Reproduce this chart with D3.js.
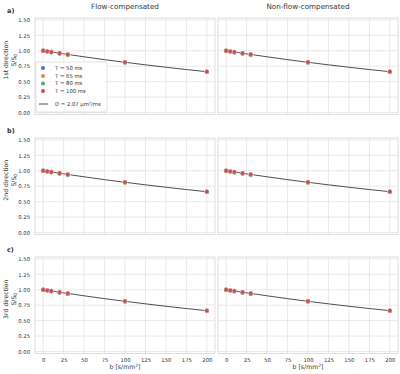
<!DOCTYPE html>
<html>
<head>
<meta charset="utf-8">
<script src="https://cdn.jsdelivr.net/npm/d3@7"></script>
<style>
  body { margin: 0; background: #fff; }
  text { font-family: "DejaVu Sans", sans-serif; fill: #333; }
</style>
</head>
<body>
<div id="chart"></div>
<script>
// data
var bValues = [0, 5, 10, 20, 30, 100, 200];
var seriesNames = ["T = 50 ms", "T = 65 ms", "T = 80 ms", "T = 100 ms"];
var seriesColors = ["#4c72b0", "#dd8452", "#55a868", "#c44e52"];
var sigT50  = [1.000, 0.990, 0.979, 0.959, 0.940, 0.813, 0.661];
var sigT65  = [1.000, 0.989, 0.978, 0.958, 0.939, 0.812, 0.660];
var sigT80  = [1.000, 0.986, 0.970, 0.952, 0.930, 0.810, 0.659];
var sigT100 = [1.000, 0.990, 0.980, 0.960, 0.941, 0.814, 0.662];
var fitB    = [0, 25, 50, 75, 100, 125, 150, 175, 200];
var fitSig  = [1.000, 0.950, 0.902, 0.856, 0.813, 0.772, 0.733, 0.696, 0.661];
var fitLabel = "D = 2.07 \u00b5m\u00b2/ms";
var colTitles = ["Flow-compensated", "Non-flow-compensated"];
var rowLabels = ["a)", "b)", "c)"];
var rowNames = ["1st direction", "2nd direction", "3rd direction"];
var yTicks = [0, 0.25, 0.5, 0.75, 1.0, 1.25, 1.5];
var xTicks = [0, 25, 50, 75, 100, 125, 150, 175, 200];

var W = 400, H = 374;
var svg = d3.select("#chart").append("svg")
    .attr("width", W)
    .attr("height", H);

var colX = [[35, 215], [218, 398]];
var rowTop = [18, 138, 257];
var panelH = 96.4;
var allSeries = [sigT50, sigT65, sigT80, sigT100];

rowTop.forEach(function(top, r) {
  var y = d3.scaleLinear().domain([-0.03, 1.53]).range([top + panelH, top]);

  colX.forEach(function(cx, c) {
    var x = d3.scaleLinear().domain([-10, 210]).range(cx);
    var g = svg.append("g");

    // grid
    g.selectAll(".gx").data(xTicks).enter().append("line")
      .attr("x1", function(d) { return x(d); }).attr("x2", function(d) { return x(d); })
      .attr("y1", top).attr("y2", top + panelH)
      .attr("stroke", "#e3e3e3").attr("stroke-width", 0.8);
    g.selectAll(".gy").data(yTicks).enter().append("line")
      .attr("x1", cx[0]).attr("x2", cx[1])
      .attr("y1", function(d) { return y(d); }).attr("y2", function(d) { return y(d); })
      .attr("stroke", "#e3e3e3").attr("stroke-width", 0.8);

    // frame
    g.append("rect")
      .attr("x", cx[0]).attr("y", top)
      .attr("width", cx[1] - cx[0]).attr("height", panelH)
      .attr("fill", "none").attr("stroke", "#d6d6d6").attr("stroke-width", 0.8);

    // fit line
    g.append("path")
      .datum(fitB)
      .attr("fill", "none")
      .attr("stroke", "#222")
      .attr("stroke-width", 0.8)
      .attr("d", d3.line()
        .x(function(d) { return x(d); })
        .y(function(d, i) { return y(fitSig[i]); }));

    // points
    allSeries.forEach(function(s, k) {
      g.selectAll(".p" + k).data(s).enter().append("circle")
        .attr("cx", function(d, i) { return x(bValues[i]); })
        .attr("cy", function(d) { return y(d); })
        .attr("r", 2.2)
        .attr("fill", seriesColors[k])
        .attr("stroke", "#fff")
        .attr("stroke-width", 0.3);
    });

    // y axis only on the left column
    if (c === 0) {
      var ya = svg.append("g")
        .attr("transform", "translate(" + (cx[0] - 2) + ",0)")
        .call(d3.axisLeft(y).tickValues(yTicks).tickSize(0).tickFormat(d3.format(".2f")));
      ya.select(".domain").remove();
      ya.selectAll("text").style("font-size", "5.3px").style("font-family", "DejaVu Sans").attr("fill", "#444");
    }

    // x axis only on the bottom row
    if (r === 2) {
      var xa = svg.append("g")
        .attr("transform", "translate(0," + (top + panelH + 2) + ")")
        .call(d3.axisBottom(x).tickValues(xTicks).tickSize(0));
      xa.select(".domain").remove();
      xa.selectAll("text").style("font-size", "5.3px").style("font-family", "DejaVu Sans").attr("fill", "#444");

      var xl = svg.append("text")
        .attr("x", (cx[0] + cx[1]) / 2).attr("y", 369)
        .attr("text-anchor", "middle")
        .attr("fill", "#333")
        .style("font-size", "6.2px");
      xl.append("tspan").text("b [s/mm");
      xl.append("tspan").attr("dy", -2.2).style("font-size", "4.5px").text("2");
      xl.append("tspan").attr("dy", 2.2).text("]");
    }

    if (r === 0) {
      svg.append("text")
        .attr("x", (cx[0] + cx[1]) / 2).attr("y", 9)
        .attr("text-anchor", "middle")
        .style("font-size", "7.2px")
        .text(colTitles[c]);
    }
  });

  // row label
  svg.append("text")
    .attr("x", 7).attr("y", top - 5)
    .style("font-size", "6.5px").style("font-weight", "bold")
    .attr("fill", "#222")
    .text(rowLabels[r]);

  // y label (two lines)
  var cyMid = top + panelH / 2 - 6;
  svg.append("text")
    .attr("transform", "translate(8," + cyMid + ") rotate(-90)")
    .attr("text-anchor", "middle")
    .style("font-size", "6.2px")
    .text(rowNames[r]);
  var sl = svg.append("text")
    .attr("transform", "translate(15.5," + cyMid + ") rotate(-90)")
    .attr("text-anchor", "middle")
    .style("font-size", "6.2px");
  sl.append("tspan").text("S/S");
  sl.append("tspan").attr("dy", 1.6).style("font-size", "4.5px").text("0");
});

// legend in panel a (left)
var lg = svg.append("g").attr("transform", "translate(36,62)");
lg.append("rect")
  .attr("width", 71).attr("height", 50)
  .attr("rx", 2)
  .attr("fill", "#fff").attr("fill-opacity", 0.85)
  .attr("stroke", "#d6d6d6").attr("stroke-width", 0.7);
var legY = [6, 14, 21.5, 29];
seriesNames.forEach(function(n, k) {
  lg.append("circle").attr("cx", 7).attr("cy", legY[k]).attr("r", 2)
    .attr("fill", seriesColors[k]);
  lg.append("text").attr("x", 19).attr("y", legY[k] + 1.9)
    .style("font-size", "5.3px").text(n);
});
lg.append("line").attr("x1", 3).attr("x2", 12).attr("y1", 42).attr("y2", 42)
  .attr("stroke", "#222").attr("stroke-width", 0.8);
lg.append("text").attr("x", 19).attr("y", 43.9)
  .style("font-size", "5.3px").text(fitLabel);
</script>
</body>
</html>
